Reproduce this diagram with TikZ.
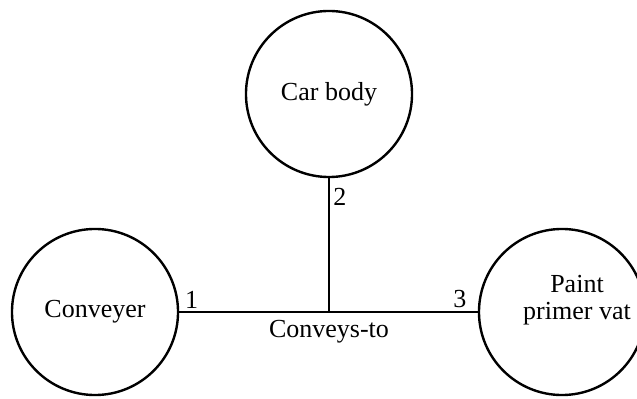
\documentclass[tikz,border=0pt]{standalone}
\usepackage{fontspec}
\setmainfont{Liberation Serif}
\usetikzlibrary{positioning}

\begin{document}
\begin{tikzpicture}[x=0.025cm,y=0.025cm,line width=1.7pt,every node/.style={font=\fontsize{18.5}{19}\selectfont},
    entity/.style={draw,circle,minimum size=4.15cm,inner sep=0pt}]
    \useasboundingbox (0,0) rectangle (637,-399);
    \node[entity] (body) at (329,-94) {Car body};
    \node[entity] (conv) at (95,-312) {Conveyer};
    \node[entity] (vat) at (562,-312) {};
    \node[align=center] (vatname) at (577,-300) {Paint\\primer vat};
    \coordinate (mid) at (body.south |- conv.east);
    \draw (conv.east)--(vat.west);
    \draw (body.south)--(mid);
    \node[above right=-2pt and 0pt of conv.east] (one) {1};
    \node[below right=3pt and -1pt of body.south] (two) {2};
    \node[above left=-1pt and 4pt of vat.west] (three) {3};
    \node[below=2pt of mid] (rel) {Conveys-to};
  \end{tikzpicture}
\end{document}
